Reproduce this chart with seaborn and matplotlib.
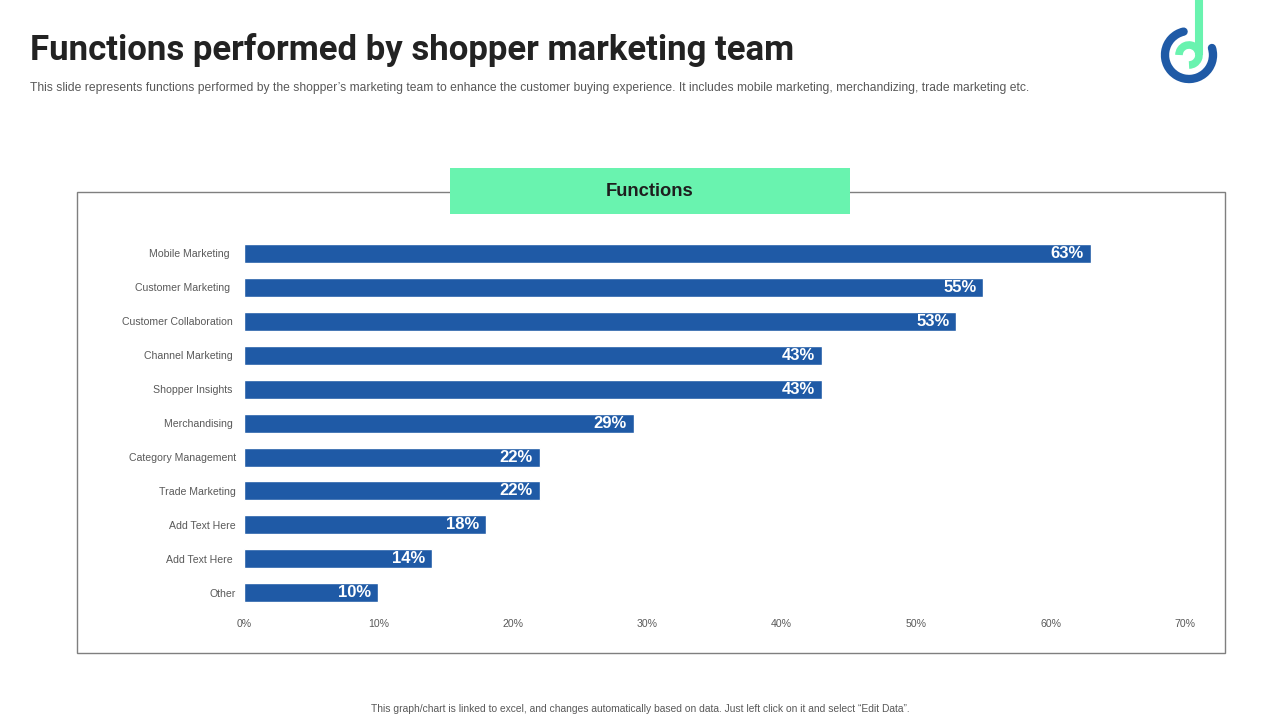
import numpy as np
import pandas as pd
import matplotlib
matplotlib.use("Agg")
import matplotlib.pyplot as plt
from matplotlib.patches import Arc, Rectangle
import seaborn as sns

# values
functions = [
    "Mobile Marketing  ", "Customer Marketing  ", "Customer Collaboration ",
    "Channel Marketing ", "Shopper Insights ", "Merchandising ",
    "Category Management", "Trade Marketing", "Add Text Here", "Add Text Here ", "Other",
]
shares = [63, 55, 53, 43, 43, 29, 22, 22, 18, 14, 10]
x_ticks = [0, 10, 20, 30, 40, 50, 60, 70]

title = "Functions performed by shopper marketing team"
subtitle = ("This slide represents functions performed by the shopper\u2019s marketing team to enhance the "
            "customer buying experience. It includes mobile marketing, merchandizing, trade marketing etc.")
footer = "This graph/chart is linked to excel, and changes automatically based on data. Just left click on it and select \u201cEdit Data\u201d."

BLUE = "#1F5AA6"
GREEN = "#69F3AF"
GREY = "#595959"

sns.set_theme(style="white")
plt.rcParams['font.family'] = ['Liberation Sans', 'DejaVu Sans']

fig = plt.figure(figsize=(12.8, 7.2), dpi=100, facecolor="white")

# overlay in pixel coordinates for the slide furniture
bg = fig.add_axes([0, 0, 1, 1])
bg.set_xlim(0, 1280)
bg.set_ylim(720, 0)
bg.set_aspect("equal")
bg.axis("off")

bg.add_patch(Rectangle((76.5, 191.5), 1148, 461, fill=False, edgecolor="#7F7F7F", linewidth=1))
bg.add_patch(Rectangle((450, 168), 400, 46, facecolor=GREEN, edgecolor="none", zorder=3))
bg.text(650, 191, "Functions", ha="center", va="center", fontsize=13.2, fontweight="bold",
        color="#1E1E1E", zorder=4)

bg.text(30, 50, title, ha="left", va="center", fontsize=25, fontweight="bold",
        family="Roboto", color="#222222")
bg.text(30, 87.5, subtitle, ha="left", va="center", fontsize=8.7, color=GREY)
bg.text(640, 709, footer, ha="center", va="center", fontsize=7.4, color=GREY)

# logo (y axis is flipped, so arc angles run clockwise)
bg.add_patch(Arc((1189, 55), 48, 48, theta1=-17, theta2=257, color=BLUE, linewidth=6, capstyle="round"))
bg.add_patch(Arc((1189, 55), 20, 20, theta1=-90, theta2=180, angle=-90, color=GREEN, linewidth=5.5))
bg.plot([1199, 1199], [0, 55], color=GREEN, linewidth=5.8, solid_capstyle="butt")

# chart
ax = fig.add_axes([244 / 1280, 1 - 609.7 / 720, (1185 - 244) / 1280, (609.7 - 236.5) / 720])
ax.patch.set_alpha(0)
df = pd.DataFrame({"function": functions, "share": shares})
sns.barplot(data=df, x="share", y="function", color=BLUE, saturation=1, width=0.56, ax=ax)

for i, v in enumerate(shares):
    ax.annotate(f"{v}%", (v, i), xytext=(-5, 0), textcoords="offset points", ha="right",
                va="center", color="white", fontsize=12, fontweight="bold")

ax.set_xlim(0, 70)
ax.set_xticks(x_ticks)
ax.set_xticklabels([f"{t}%" for t in x_ticks])
ax.set_xlabel("")
ax.set_ylabel("")
ax.tick_params(axis="x", length=0, pad=7, labelsize=7.6, labelcolor=GREY)
ax.tick_params(axis="y", length=0, pad=6, labelsize=7.6, labelcolor=GREY)
sns.despine(ax=ax, left=True, bottom=True)

fig.savefig("out.png", dpi=100)
